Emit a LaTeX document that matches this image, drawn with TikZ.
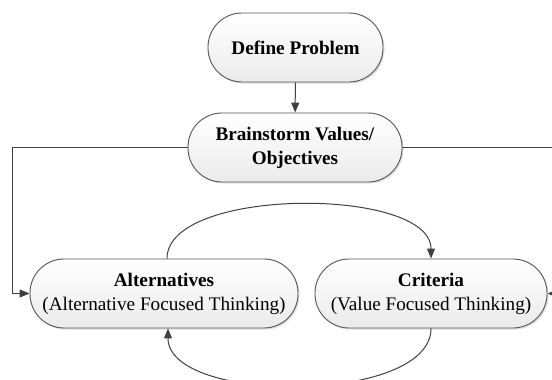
\documentclass[tikz,border=0pt]{standalone}
\usepackage{fontspec}
\setmainfont{Liberation Serif}
\usetikzlibrary{arrows.meta,shadows}
\definecolor{edgegray}{HTML}{404040}
\definecolor{boxline}{HTML}{555555}
\tikzset{
  flowbox/.style={draw=boxline, line width=0.9pt, rounded corners=34pt,
    top color=white, bottom color=black!8, inner sep=0pt, align=center,
    minimum height=69pt,
    font=\fontsize{19.2}{24}\selectfont,
    drop shadow={shadow xshift=1.5pt, shadow yshift=-1.5pt, opacity=0.25}},
  link/.style={draw=edgegray, line width=1pt, -{Triangle[length=10pt,width=8pt]}},
}
\begin{document}
\begin{tikzpicture}[x=1pt, y=-1pt]
  \useasboundingbox (0,0) rectangle (552,380);
  \clip (0,0) rectangle (552,380);

  % process steps
  \node[flowbox, minimum width=175pt] (def) at (295.5,47.5) {\textbf{Define Problem}};
  \node[flowbox, minimum width=214pt] (brain) at (295,147.5) {\textbf{Brainstorm Values/}\\\textbf{Objectives}};
  \node[flowbox, minimum width=268pt] (alt) at (164,293.5) {\textbf{Alternatives}\\(Alternative Focused Thinking)};
  \node[flowbox, minimum width=232pt] (crit) at (431,293.5) {\textbf{Criteria}\\(Value Focused Thinking)};

  % connectors
  \coordinate (lside) at (12,147.5);
  \coordinate (rside) at (562,147.5);
  \draw[link] (def) -- (brain);
  \draw[link] (brain.west) -- (lside) |- (alt.west);
  \draw[link] (brain.east) -- (rside) |- (crit.east);
  \draw[link] ([xshift=3pt]alt.north) .. controls +(0,-72) and +(0,-72) .. (crit.north);
  \draw[link] (crit.south) .. controls +(0,76) and +(0,76) .. ([xshift=4pt]alt.south);
\end{tikzpicture}
\end{document}
